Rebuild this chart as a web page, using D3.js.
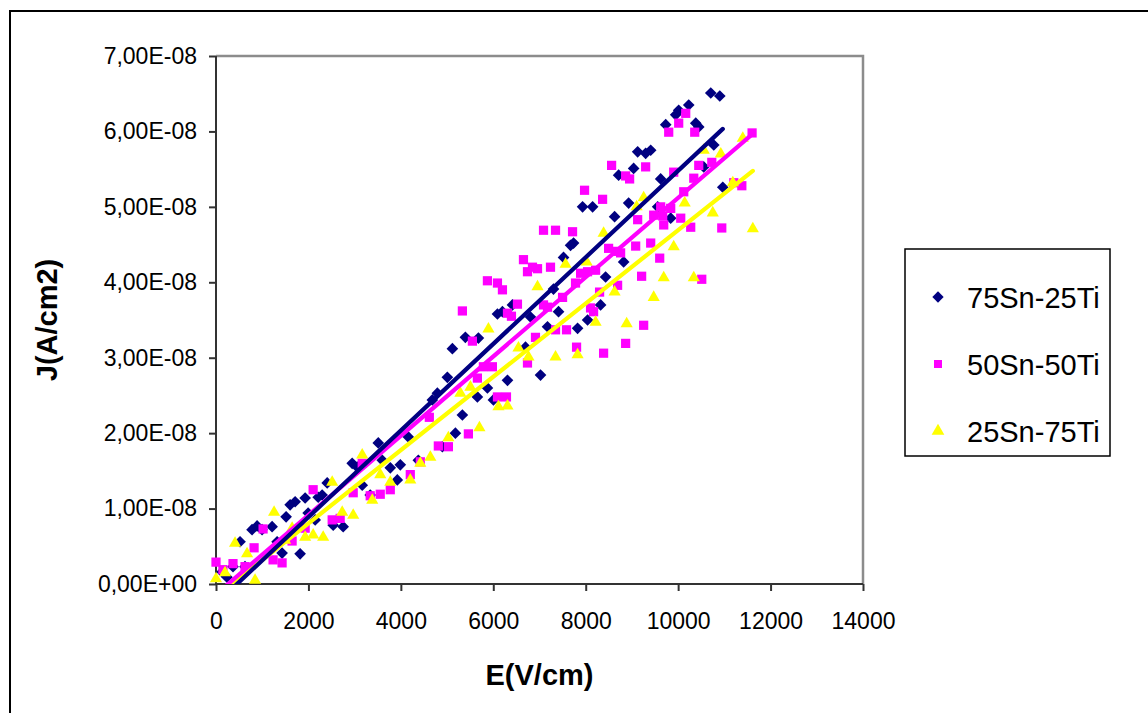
<!DOCTYPE html>
<html>
<head>
<meta charset="utf-8">
<script src="https://cdn.jsdelivr.net/npm/d3@7"></script>
<style>
  html, body { margin: 0; padding: 0; background: #fff; }
  svg { display: block; font-family: "Liberation Sans", Arial, sans-serif; }
</style>
</head>
<body>
<svg id="chart" width="1148" height="713"></svg>
<script>
// J values are stored in units of 1e-8 A/cm2
const J_UNIT = 1e-8;

const seriesNames = ['75Sn-25Ti', '50Sn-50Ti', '25Sn-75Ti'];
const seriesColors = ['#000080', '#ff00ff', '#ffff00'];

// 75Sn-25Ti : [E (V/cm), J (1e-8 A/cm2)]
const sn75 = [
  [130, 0.16], [238, 0.09], [368, 0.23], [628, 0.23], [520, 0.56], [780, 0.72], [889, 0.77],
  [997, 0.72], [1214, 0.76], [1322, 0.56], [1430, 0.41], [1820, 0.40], [1517, 0.89], [1604, 1.05],
  [1712, 1.09], [1929, 1.14], [1994, 0.94], [2146, 0.85], [2211, 1.15], [2297, 1.18], [2406, 1.34],
  [2536, 0.78], [2752, 0.76], [2947, 1.60], [3056, 1.55], [3164, 1.31], [3337, 1.18], [3511, 1.87],
  [3598, 1.64], [3771, 1.54], [3923, 1.38], [3988, 1.58], [4161, 1.95], [4378, 1.64], [4681, 2.44],
  [4790, 2.53], [4898, 1.82], [5006, 2.74], [5115, 3.12], [5180, 2.00], [5331, 2.24], [5396, 3.27],
  [5678, 3.26], [5656, 2.48], [5873, 2.60], [6003, 2.44], [6090, 3.58], [6198, 3.61], [6307, 2.70],
  [6415, 3.70], [6697, 3.14], [6805, 3.54], [7022, 2.77], [7173, 3.41], [7303, 3.91], [7412, 3.61],
  [7520, 4.33], [7672, 4.49], [7737, 4.52], [7824, 3.39], [8040, 3.50], [8322, 3.70], [8430, 4.07],
  [8821, 4.27], [7932, 5.00], [8149, 5.00], [8625, 4.87], [8929, 5.05], [8712, 5.42], [9037, 5.51],
  [9124, 5.73], [9297, 5.71], [9406, 5.75], [9557, 5.00], [9622, 5.37], [9839, 4.85], [9731, 6.09],
  [9947, 6.22], [10012, 6.28], [10229, 6.35], [10381, 6.11], [10446, 6.06], [10554, 5.53],
  [10771, 5.82], [10706, 6.51], [10901, 6.47], [10966, 5.26]
];

// 50Sn-50Ti
const sn50 = [
  [0, 0.29], [150, 0.19], [368, 0.27], [628, 0.23], [824, 0.48], [1019, 0.73], [1235, 0.32],
  [1430, 0.28], [1647, 0.57], [1929, 0.74], [2102, 1.25], [2514, 0.85], [2687, 0.87], [2969, 1.21],
  [3164, 1.60], [3337, 1.17], [3554, 1.19], [3771, 1.25], [4204, 1.45], [4421, 1.62], [4616, 2.21],
  [4811, 1.83], [5028, 1.82], [5331, 3.62], [5461, 1.99], [5548, 3.22], [5656, 2.73], [5786, 2.88],
  [5981, 2.88], [6090, 2.48], [6285, 2.48], [5873, 4.02], [6090, 3.99], [6198, 3.90], [6307, 3.59],
  [6393, 3.55], [6523, 3.71], [6653, 4.30], [6740, 4.14], [6848, 4.20], [6957, 4.18], [6740, 2.93],
  [6913, 3.27], [7087, 3.70], [7173, 3.67], [7238, 4.20], [7087, 4.69], [7347, 4.69], [7347, 3.37],
  [7585, 3.37], [7499, 3.80], [7715, 4.67], [7780, 3.99], [7802, 3.14], [7889, 4.12], [8040, 4.14],
  [8214, 4.16], [8105, 3.66], [8170, 3.61], [8300, 3.87], [8387, 3.06], [7975, 5.22], [8365, 5.10],
  [8495, 4.45], [8647, 4.41], [8755, 4.39], [8690, 3.96], [8864, 3.19], [8864, 5.41], [8950, 5.37],
  [8560, 5.55], [9081, 4.48], [9124, 4.83], [9210, 4.08], [9254, 3.43], [9297, 5.53], [9406, 4.52],
  [9471, 4.89], [9601, 4.32], [9622, 5.00], [9666, 4.88], [9688, 4.76], [9796, 5.99], [9839, 4.98],
  [9904, 5.46], [10012, 6.11], [10056, 4.85], [10121, 5.20], [10164, 6.24], [10272, 4.73],
  [10338, 5.38], [10359, 5.99], [10446, 5.55], [10511, 4.04], [10728, 5.59], [10944, 4.72],
  [11204, 5.32], [11378, 5.28], [11600, 5.98]
];

// 25Sn-75Ti
const sn25 = [
  [0, 0.07], [195, 0.15], [412, 0.54], [672, 0.40], [845, 0.05], [1257, 0.95], [1495, 0.58],
  [1647, 0.74], [1929, 0.62], [2102, 0.65], [2319, 0.62], [2514, 1.35], [2731, 0.95], [2969, 0.91],
  [3164, 1.71], [3381, 1.11], [3554, 1.45], [3771, 1.35], [4204, 1.38], [4421, 1.60], [4638, 1.68],
  [5028, 1.94], [5288, 2.53], [5505, 2.61], [5700, 2.07], [5895, 3.38], [6112, 2.35], [6307, 2.36],
  [6545, 3.13], [6762, 3.01], [6957, 3.94], [7347, 3.01], [7564, 4.24], [7824, 3.04], [8019, 4.27],
  [8214, 3.47], [8387, 4.65], [8625, 3.87], [8886, 3.45], [9102, 5.00], [9254, 5.12], [9471, 3.80],
  [9688, 4.06], [9904, 4.47], [10142, 5.05], [10338, 4.06], [10554, 5.75], [10749, 4.92],
  [10923, 5.70], [11183, 5.32], [11399, 5.91], [11616, 4.71]
];

// linear trendlines: J = slope * E + intercept (A/cm2)
const trendSlope = [5.74e-12, 5.256e-12, 4.86e-12];
const trendIntercept = [-2.61e-9, -1.37e-9, -1.69e-9];

const xTicks = [0, 2000, 4000, 6000, 8000, 10000, 12000, 14000];
const yTicks = [0, 1e-8, 2e-8, 3e-8, 4e-8, 5e-8, 6e-8, 7e-8];

const allSeries = [sn75, sn50, sn25];

const svg = d3.select('#chart');
const plot = { left: 216, right: 863, top: 56, bottom: 584 };

const x = d3.scaleLinear().domain([0, 14000]).range([plot.left, plot.right]);
const y = d3.scaleLinear().domain([0, 7e-8]).range([plot.bottom, plot.top]);

function fmtSci(v) {
  if (v === 0) return '0,00E+00';
  const [m, e] = v.toExponential(2).split('e');
  const ex = +e;
  return m.replace('.', ',') + 'E' + (ex < 0 ? '-' : '+') + String(Math.abs(ex)).padStart(2, '0');
}

// outer chart frame
svg.append('rect')
  .attr('x', 10).attr('y', 11)
  .attr('width', 1160).attr('height', 730)
  .attr('fill', 'none').attr('stroke', '#000').attr('stroke-width', 2);

// plot area border (grey top and right)
svg.append('path')
  .attr('d', `M${plot.left},${plot.top}H${plot.right}V${plot.bottom}`)
  .attr('fill', 'none').attr('stroke', '#8c8c8c').attr('stroke-width', 2.5);

svg.append('defs').append('clipPath').attr('id', 'plotClip')
  .append('rect')
  .attr('x', plot.left).attr('y', plot.top)
  .attr('width', plot.right - plot.left).attr('height', plot.bottom - plot.top);

// axes
const yAxis = d3.axisLeft(y).tickValues(yTicks).tickSize(7).tickPadding(12).tickFormat(fmtSci);
const xAxis = d3.axisBottom(x).tickValues(xTicks).tickSize(7).tickPadding(22).tickFormat(d3.format('d'));

const gy = svg.append('g').attr('transform', `translate(${plot.left},0)`).call(yAxis);
const gx = svg.append('g').attr('transform', `translate(0,${plot.bottom})`).call(xAxis);
[gx, gy].forEach(g => {
  g.select('.domain').attr('stroke', '#333').attr('stroke-width', 2);
  g.selectAll('.tick line').attr('stroke', '#333').attr('stroke-width', 2);
  g.selectAll('text').attr('font-size', 23).attr('font-family', '"Liberation Sans", Arial, sans-serif').attr('fill', '#000');
});
gx.select('.domain').attr('d', `M${plot.left},0H${plot.right}`);
gy.select('.domain').attr('d', `M0,${plot.bottom}V${plot.top}`);

// markers
const shapes = [
  d3.symbol(d3.symbolSquare, 68),
  d3.symbol(d3.symbolSquare, 85),
  d3.symbol(d3.symbolTriangle, 64)
];
const rotations = [45, 0, 0];

const markers = svg.append('g');
allSeries.forEach((data, i) => {
  markers.append('g').selectAll('path')
    .data(data)
    .join('path')
    .attr('d', shapes[i])
    .attr('transform', d => `translate(${x(d[0])},${y(d[1] * J_UNIT)}) rotate(${rotations[i]})`)
    .attr('fill', seriesColors[i]);
});

// trendlines
const lines = svg.append('g').attr('clip-path', 'url(#plotClip)');
[2, 1, 0].forEach(i => {
  const ext = d3.extent(allSeries[i], d => d[0]);
  const pts = ext.map(e => [e, trendSlope[i] * e + trendIntercept[i]]);
  lines.append('path')
    .attr('d', d3.line().x(d => x(d[0])).y(d => y(d[1]))(pts))
    .attr('stroke', seriesColors[i])
    .attr('stroke-width', 4.2)
    .attr('stroke-linecap', 'round')
    .attr('fill', 'none');
});

// axis titles
svg.append('text')
  .attr('transform', `translate(57,${(plot.top + plot.bottom) / 2}) rotate(-90)`)
  .attr('text-anchor', 'middle')
  .attr('font-size', 29).attr('font-weight', 'bold')
  .text('J(A/cm2)');

svg.append('text')
  .attr('x', (plot.left + plot.right) / 2)
  .attr('y', 685)
  .attr('text-anchor', 'middle')
  .attr('font-size', 29).attr('font-weight', 'bold')
  .text('E(V/cm)');

// legend
const legend = svg.append('g');
legend.append('rect')
  .attr('x', 905).attr('y', 249).attr('width', 205).attr('height', 207)
  .attr('fill', '#fff').attr('stroke', '#000').attr('stroke-width', 1.5);

seriesNames.forEach((name, i) => {
  const cy = 297 + i * 67;
  legend.append('path')
    .attr('d', d3.symbol(i === 2 ? d3.symbolTriangle : d3.symbolSquare, i === 2 ? 70 : 64)())
    .attr('transform', `translate(938,${cy}) rotate(${rotations[i]})`)
    .attr('fill', seriesColors[i]);
  legend.append('text')
    .attr('x', 967).attr('y', cy + 11)
    .attr('font-size', 29)
    .text(name);
});
</script>
</body>
</html>
